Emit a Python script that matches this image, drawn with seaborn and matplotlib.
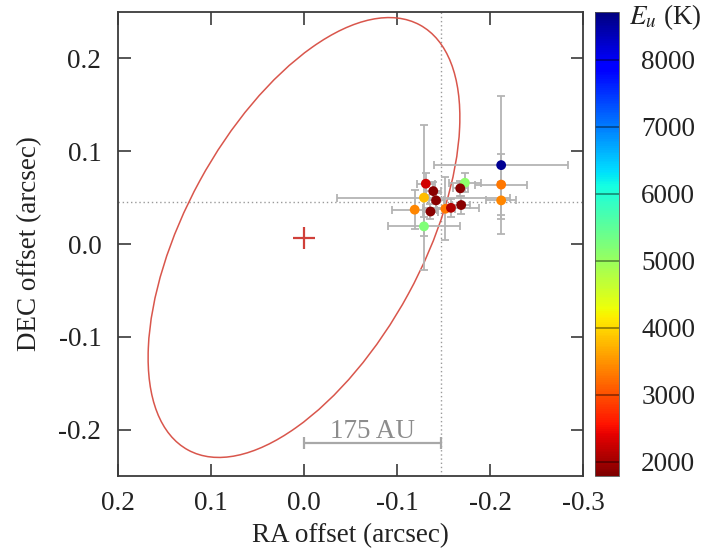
import numpy as np
import pandas as pd
import matplotlib
matplotlib.use("Agg")
import matplotlib.pyplot as plt
from matplotlib.patches import Ellipse
from matplotlib.colors import Normalize
import seaborn as sns

# Emission centroids (arcsec offsets from the continuum peak) and upper-level energies
ra_off = [-0.212, -0.212, -0.212, -0.173, -0.131, -0.139, -0.129, -0.142,
          -0.119, -0.136, -0.152, -0.158, -0.168, -0.169, -0.129]
dec_off = [0.085, 0.064, 0.047, 0.066, 0.065, 0.057, 0.050, 0.047,
           0.037, 0.035, 0.038, 0.039, 0.060, 0.042, 0.019]
ra_err = [0.072, 0.028, 0.016, 0.017, 0.010, 0.008, 0.093, 0.008,
          0.024, 0.008, 0.010, 0.030, 0.008, 0.010, 0.039]
dec_err = [0.074, 0.033, 0.020, 0.010, 0.012, 0.010, 0.078, 0.008,
           0.021, 0.008, 0.034, 0.010, 0.008, 0.010, 0.010]
e_up = [8600, 3300, 3400, 5100, 2300, 1850, 3800, 1850,
        3400, 1850, 3300, 2100, 1850, 1850, 5200]

# Continuum peak and its fitted ellipse
star_ra, star_dec = 0.0, 0.007
ell_major, ell_minor, ell_angle = 0.5214, 0.2552, -61.45

# Mean line-emission position and physical scale bar
mean_ra, mean_dec = -0.147, 0.045
bar_len = 0.147
bar_label = "175 AU"

cbar_ticks = [2000, 3000, 4000, 5000, 6000, 7000, 8000]
e_min, e_max = 1790, 8710

sns.set_style("ticks")
plt.rcParams["font.family"] = ["Liberation Serif", "DejaVu Serif"]
plt.rcParams["mathtext.fontset"] = "stix"

fs = 19.5
ink = "#222222"
frame = "#3a3a3a"

fig = plt.figure(figsize=(7.06, 5.55), dpi=100)
ax = fig.add_axes([0.1671, 0.1423, 0.6587, 0.8361])
cax = fig.add_axes([0.8428, 0.1423, 0.034, 0.8361])

df = pd.DataFrame({"ra": ra_off, "dec": dec_off, "Eu": e_up})
norm = Normalize(vmin=e_min, vmax=e_max)
cmap = plt.get_cmap("jet_r")

# guide lines through the mean position
ax.axvline(mean_ra, color="#9a9a9a", lw=1.0, ls=(0, (1, 2)), zorder=1)
ax.axhline(mean_dec, color="#9a9a9a", lw=1.0, ls=(0, (1, 2)), zorder=1)

# continuum ellipse and peak
ax.add_patch(Ellipse((star_ra, star_dec), ell_major, ell_minor, angle=ell_angle,
                     fill=False, edgecolor="#d9564c", lw=1.1, zorder=2))
ax.plot([star_ra], [star_dec], marker="+", ms=16, mew=1.6, color="#d0403a",
        ls="none", zorder=2)

# positional uncertainties
ax.errorbar(ra_off, dec_off, xerr=ra_err, yerr=dec_err, fmt="none",
            ecolor="#b4b4b4", elinewidth=1.3, capsize=3, capthick=1.3, zorder=3)

sns.scatterplot(data=df, x="ra", y="dec", hue="Eu", palette=cmap, hue_norm=norm,
                s=50, edgecolor="none", legend=False, ax=ax, zorder=4)

# scale bar
ax.errorbar([star_ra - bar_len / 2], [-0.2144], xerr=[bar_len / 2], fmt="none",
            ecolor="#a8a8a8", elinewidth=1.6, capsize=4, capthick=1.6, zorder=3)
ax.text(star_ra - bar_len / 2, -0.2095, bar_label, ha="center", va="baseline",
        color="#8c8c8c", fontsize=fs)

ax.set_xlim(0.2, -0.3)
ax.set_ylim(-0.25, 0.25)
ax.set_xticks([0.2, 0.1, 0.0, -0.1, -0.2, -0.3])
ax.set_yticks([-0.2, -0.1, 0.0, 0.1, 0.2])
ax.set_xticklabels(["0.2", "0.1", "0.0", "-0.1", "-0.2", "-0.3"])
ax.set_yticklabels(["-0.2", "-0.1", "0.0", "0.1", "0.2"])
ax.set_xlabel("RA offset (arcsec)", fontsize=fs, color=ink, labelpad=5)
ax.set_ylabel("DEC offset (arcsec)", fontsize=fs, color=ink, labelpad=12)
ax.tick_params(direction="in", length=9, width=1.2, colors=frame, labelcolor=ink,
               labelsize=fs, top=True, right=True)
ax.tick_params(axis="x", pad=11)
ax.tick_params(axis="y", pad=12)
for sp in ax.spines.values():
    sp.set_visible(True)
    sp.set_color(frame)
    sp.set_linewidth(1.3)

# colour scale
sm = plt.cm.ScalarMappable(norm=norm, cmap=cmap)
cb = fig.colorbar(sm, cax=cax, ticks=cbar_ticks)
cb.outline.set_linewidth(0.6)
cb.outline.set_edgecolor("#555555")
cax.tick_params(length=0, labelsize=fs, labelcolor=ink, pad=16)
for t in cbar_ticks:
    cax.axhline(t, color="black", alpha=0.45, lw=1.2)
fig.text(665 / 706, 1 - 17 / 555, r"$E_u$ (K)", ha="center", va="center",
         fontsize=fs, color=ink)

fig.savefig("out.png", dpi=100)
